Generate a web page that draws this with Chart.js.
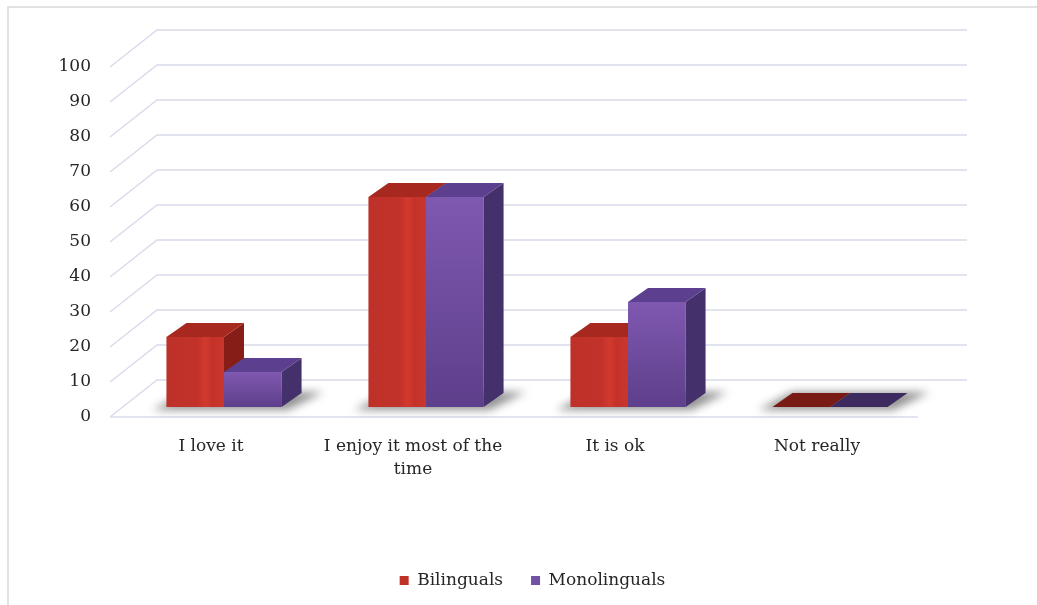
<!DOCTYPE html>
<html>
<head>
<meta charset="utf-8">
<title>Bilinguals vs Monolinguals</title>
<script src="https://cdn.jsdelivr.net/npm/chart.js@4.4.1/dist/chart.umd.min.js"></script>
<style>
  html, body { margin: 0; padding: 0; background: #fff; }
  #wrap { width: 1037px; height: 605px; }
</style>
</head>
<body>
<div id="wrap"><canvas id="chart" width="1037" height="605"></canvas></div>
<script>
const categories = ['I love it', ['I enjoy it most of the', 'time'], 'It is ok', 'Not really'];
const bilinguals = [20, 60, 20, 0];
const monolinguals = [10, 60, 30, 0];
const yMin = 0, yMax = 100, yStep = 10;

// fake 3D: floor/side wall depth, where the bar fronts sit, and bar depth
const WALL = {dx: 47, dy: -37};
const BAR_OFF = {dx: 13, dy: -10};
const BAR_DEPTH = {dx: 20, dy: -14};

// front gradient: dir 'h' runs across the bar, 'v' top to bottom
const faces = [
  {dir: 'h', stops: [[0, '#bd3128'], [0.55, '#c3322a'], [0.68, '#d3392d'], [0.8, '#c3322a'], [1, '#ca362b']],
   top: '#a7281e', side: '#871d17', flat: '#7a1a15'},
  {dir: 'v', stops: [[0, '#7f58b0'], [1, '#5e3f8b']],
   top: '#5d3f8f', side: '#44306a', flat: '#3d2a5e'}
];

const font = {family: "'DejaVu Serif', serif", size: 17};

const bars3d = {
  id: 'bars3d',
  beforeDraw(chart) {
    const {ctx, chartArea: a, scales: {y}} = chart;
    ctx.save();
    ctx.strokeStyle = '#d9d9d9';
    ctx.lineWidth = 1.5;
    ctx.beginPath();
    ctx.moveTo(8, chart.height);
    ctx.lineTo(8, 7);
    ctx.lineTo(chart.width, 7);
    ctx.stroke();

    ctx.strokeStyle = '#d8dcea';
    for (let v = yMin; v <= yMax; v += yStep) {
      const py = y.getPixelForValue(v);
      ctx.beginPath();
      ctx.moveTo(a.left, py);
      ctx.lineTo(a.left + WALL.dx, py + WALL.dy);
      ctx.lineTo(a.right + WALL.dx + 2, py + WALL.dy);
      ctx.stroke();
    }
    const py0 = y.getPixelForValue(0);
    ctx.beginPath();
    ctx.moveTo(a.left, py0);
    ctx.lineTo(a.right, py0);
    ctx.stroke();
    ctx.restore();
  },
  beforeDatasetsDraw(chart) {
    const {ctx} = chart;
    const metas = chart.data.datasets.map((d, i) => chart.getDatasetMeta(i));
    const n = chart.data.labels.length;
    for (let j = 0; j < n; j++) {
      const first = metas[0].data[j];
      const last = metas[metas.length - 1].data[j];
      const L = first.x - first.width / 2 + BAR_OFF.dx;
      const R = last.x + last.width / 2 + BAR_OFF.dx;
      const base = first.base + BAR_OFF.dy;

      // soft shadow on the floor
      ctx.save();
      ctx.filter = 'blur(4px)';
      ctx.fillStyle = 'rgba(40,40,40,0.5)';
      ctx.beginPath();
      ctx.moveTo(L - 14, base + 3);
      ctx.lineTo(R + 6, base + 3);
      ctx.lineTo(R + BAR_DEPTH.dx + 22, base + BAR_DEPTH.dy - 1);
      ctx.lineTo(L + BAR_DEPTH.dx, base + BAR_DEPTH.dy - 1);
      ctx.closePath();
      ctx.fill();
      ctx.restore();

      metas.forEach((meta, i) => {
        const el = meta.data[j];
        const v = chart.data.datasets[i].data[j];
        const f = faces[i];
        const x0 = el.x - el.width / 2 + BAR_OFF.dx;
        const x1 = x0 + el.width;
        const yb = el.base + BAR_OFF.dy;
        const yt = el.y + BAR_OFF.dy;
        const dx = BAR_DEPTH.dx, dy = BAR_DEPTH.dy;
        ctx.save();
        if (v > 0) {
          const g = f.dir === 'h'
            ? ctx.createLinearGradient(x0, 0, x1, 0)
            : ctx.createLinearGradient(0, yt, 0, yb);
          f.stops.forEach(([p, c]) => g.addColorStop(p, c));
          ctx.fillStyle = g;
          ctx.fillRect(x0, yt, x1 - x0, yb - yt);

          ctx.fillStyle = f.side;
          ctx.beginPath();
          ctx.moveTo(x1, yt);
          ctx.lineTo(x1 + dx, yt + dy);
          ctx.lineTo(x1 + dx, yb + dy);
          ctx.lineTo(x1, yb);
          ctx.closePath();
          ctx.fill();
        }
        ctx.fillStyle = v > 0 ? f.top : f.flat;
        ctx.beginPath();
        ctx.moveTo(x0, yt);
        ctx.lineTo(x1, yt);
        ctx.lineTo(x1 + dx, yt + dy);
        ctx.lineTo(x0 + dx, yt + dy);
        ctx.closePath();
        ctx.fill();
        ctx.restore();
      });
    }
    return false;
  }
};

new Chart(document.getElementById('chart'), {
  type: 'bar',
  data: {
    labels: categories,
    datasets: [
      {label: 'Bilinguals', data: bilinguals, backgroundColor: '#bf3228', borderWidth: 0},
      {label: 'Monolinguals', data: monolinguals, backgroundColor: '#7152a3', borderWidth: 0}
    ]
  },
  options: {
    responsive: false,
    animation: false,
    categoryPercentage: 0.57,
    barPercentage: 1.0,
    layout: {padding: {left: 28, right: 0, top: 67, bottom: 6}},
    plugins: {
      legend: {
        position: 'bottom',
        labels: {boxWidth: 9, boxHeight: 9, padding: 28, font: font, color: '#262626'}
      },
      tooltip: {enabled: false}
    },
    scales: {
      x: {
        grid: {display: false},
        border: {display: false},
        ticks: {padding: 11, font: {...font, lineHeight: 1.3}, color: '#262626', maxRotation: 0, autoSkip: false},
        afterFit: s => { s.height = 127; }
      },
      y: {
        min: yMin,
        max: yMax,
        ticks: {stepSize: yStep, padding: 19, font: font, color: '#262626'},
        grid: {display: false, drawTicks: false},
        border: {display: false},
        afterFit: s => { s.width = 82; }
      },
      yRight: {
        position: 'right',
        grid: {display: false},
        border: {display: false},
        ticks: {display: false},
        afterFit: s => { s.width = 119; }
      }
    }
  },
  plugins: [bars3d]
});
</script>
</body>
</html>
